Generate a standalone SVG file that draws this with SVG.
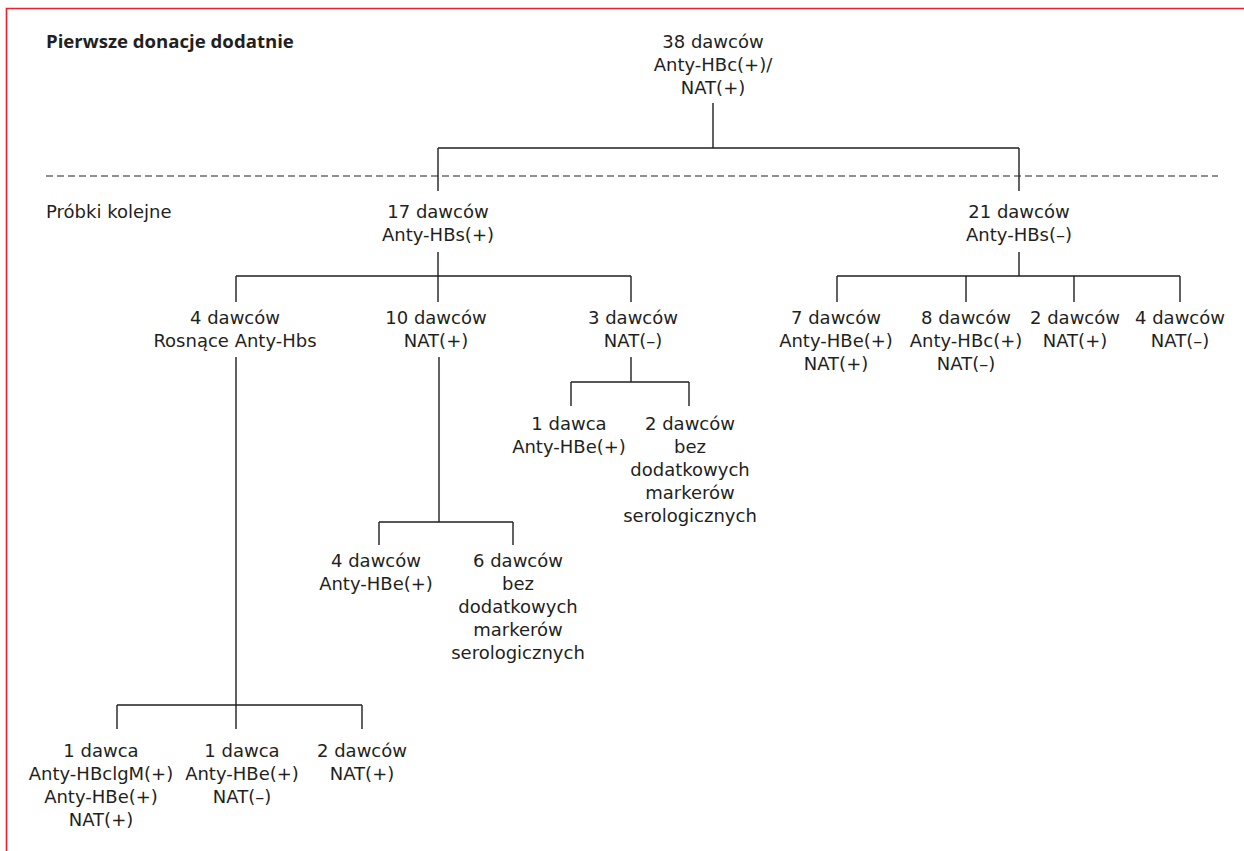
<svg xmlns="http://www.w3.org/2000/svg" width="1244" height="851" viewBox="0 0 1244 851">
<style>
text{font-family:"DejaVu Sans","Open Sans",sans-serif;font-size:18px;fill:#231f20;text-anchor:middle}
.l{text-anchor:start}
.b{font-family:"Open Sans","Noto Sans",sans-serif;font-weight:bold;font-size:18.6px}
.c{fill:none;stroke:#231f20;stroke-width:1.4}
.d{fill:none;stroke:#231f20;stroke-width:1.2;stroke-dasharray:7 4}
</style>
<rect width="1244" height="851" fill="#fff"/>
<path d="M6.5 851V8.5H1244" fill="none" stroke="#e8202f" stroke-width="1.6"/>
<g id="labels">
<text class="l b" x="46" y="48">Pierwsze donacje dodatnie</text>
<text class="l" x="46" y="218">Próbki kolejne</text>
</g>
<g id="connectors">
<path class="d" d="M46 176H1218"/>
<path class="c" d="M713 103V148M438 148H1019M438 148V191M1019 148V191"/>
<path class="c" d="M438 252V276M236 276H631M236 276V302M438 276V302M631 276V302"/>
<path class="c" d="M1019 252V276M837 276H1180M837 276V302M966 276V302M1074 276V302M1180 276V302"/>
<path class="c" d="M236 357V729M117 705H362M117 705V729M362 705V729"/>
<path class="c" d="M439 357V522M379 522H513M379 522V545M513 522V545"/>
<path class="c" d="M631 357V382M571 382H689M571 382V406M689 382V406"/>
</g>
<g id="n38"><text x="713" y="48">38 dawców<tspan x="713" dy="23">Anty-HBc(+)/</tspan><tspan x="713" dy="23">NAT(+)</tspan></text></g>
<g id="n17"><text x="438" y="218">17 dawców<tspan x="438" dy="23">Anty-HBs(+)</tspan></text></g>
<g id="n21"><text x="1019" y="218">21 dawców<tspan x="1019" dy="23">Anty-HBs(–)</tspan></text></g>
<g id="n4r"><text x="235" y="324">4 dawców<tspan x="235" dy="23">Rosnące Anty-Hbs</tspan></text></g>
<g id="n10"><text x="436" y="324">10 dawców<tspan x="436" dy="23">NAT(+)</tspan></text></g>
<g id="n3"><text x="633" y="324">3 dawców<tspan x="633" dy="23">NAT(–)</tspan></text></g>
<g id="n7"><text x="836" y="324">7 dawców<tspan x="836" dy="23">Anty-HBe(+)</tspan><tspan x="836" dy="23">NAT(+)</tspan></text></g>
<g id="n8"><text x="966" y="324">8 dawców<tspan x="966" dy="23">Anty-HBc(+)</tspan><tspan x="966" dy="23">NAT(–)</tspan></text></g>
<g id="n2r"><text x="1075" y="324">2 dawców<tspan x="1075" dy="23">NAT(+)</tspan></text></g>
<g id="n4n"><text x="1180" y="324">4 dawców<tspan x="1180" dy="23">NAT(–)</tspan></text></g>
<g id="n1e"><text x="569" y="430">1 dawca<tspan x="569" dy="23">Anty-HBe(+)</tspan></text></g>
<g id="n2b"><text x="690" y="430">2 dawców<tspan x="690" dy="23">bez</tspan><tspan x="690" dy="23">dodatkowych</tspan><tspan x="690" dy="23">markerów</tspan><tspan x="690" dy="23">serologicznych</tspan></text></g>
<g id="n4e"><text x="376" y="567">4 dawców<tspan x="376" dy="23">Anty-HBe(+)</tspan></text></g>
<g id="n6b"><text x="518" y="567">6 dawców<tspan x="518" dy="23">bez</tspan><tspan x="518" dy="23">dodatkowych</tspan><tspan x="518" dy="23">markerów</tspan><tspan x="518" dy="23">serologicznych</tspan></text></g>
<g id="n1m"><text x="101" y="757">1 dawca<tspan x="101" dy="23">Anty-HBclgM(+)</tspan><tspan x="101" dy="23">Anty-HBe(+)</tspan><tspan x="101" dy="23">NAT(+)</tspan></text></g>
<g id="n1n"><text x="242" y="757">1 dawca<tspan x="242" dy="23">Anty-HBe(+)</tspan><tspan x="242" dy="23">NAT(–)</tspan></text></g>
<g id="n2n"><text x="362" y="757">2 dawców<tspan x="362" dy="23">NAT(+)</tspan></text></g>
</svg>
